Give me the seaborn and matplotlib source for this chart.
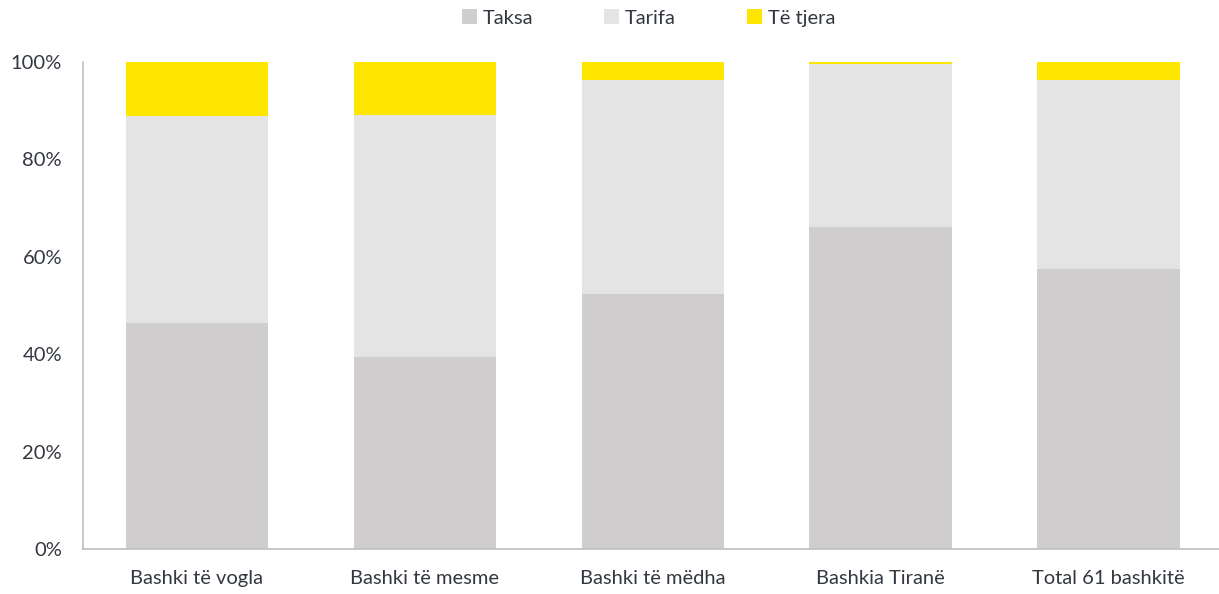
import matplotlib
matplotlib.use("Agg")
import matplotlib.pyplot as plt
import seaborn as sns
import pandas as pd
import numpy as np
from matplotlib.patches import Patch
from matplotlib.ticker import FuncFormatter

categories = ["Bashki të vogla", "Bashki të mesme", "Bashki të mëdha", "Bashkia Tiranë", "Total 61 bashkitë"]
taksa = [46.5, 39.4, 52.4, 66.1, 57.5]
tarifa = [42.4, 49.7, 43.9, 33.5, 38.8]
te_tjera = [11.1, 10.9, 3.7, 0.4, 3.7]
series_names = ["Taksa", "Tarifa", "Të tjera"]
colors = ["#CFCDCE", "#E4E4E4", "#FFE600"]
text_color = "#333840"

sns.set_theme(style="white")
plt.rcParams['font.family'] = ['Lato', 'DejaVu Sans']

df = pd.DataFrame({"cat": categories, "Taksa": taksa, "Tarifa": tarifa, "Të tjera": te_tjera})
df["c1"] = df["Taksa"]
df["c2"] = df["Taksa"] + df["Tarifa"]
df["c3"] = df["c2"] + df["Të tjera"]

fig = plt.figure(figsize=(12.19, 5.94), dpi=100)
ax = fig.add_axes([0.068, 0.0758, 0.935, 0.8198])

for col, color in zip(["c3", "c2", "c1"], colors[::-1]):
    sns.barplot(data=df, x="cat", y=col, color=color, width=0.625, ax=ax,
                saturation=1, edgecolor="none")

ax.set_ylim(0, 100)
ax.set_xlim(-0.5, 4.5)
ax.set_yticks([0, 20, 40, 60, 80, 100])
ax.yaxis.set_major_formatter(FuncFormatter(lambda v, p: f"{int(v)}%"))
ax.set_xlabel("")
ax.set_ylabel("")
for s in ["top", "right"]:
    ax.spines[s].set_visible(False)
for s in ["left", "bottom"]:
    ax.spines[s].set_color("#BFBFBF")
    ax.spines[s].set_linewidth(1.2)
ax.tick_params(axis="both", length=0, labelsize=14.5, colors=text_color)
ax.tick_params(axis="x", pad=15)
ax.tick_params(axis="y", pad=15)

handles = [Patch(facecolor=c, edgecolor="none") for c in colors]
fig.legend(handles, series_names, loc="center", bbox_to_anchor=(0.532, 0.97), ncol=3,
           frameon=False, fontsize=14.5, handlelength=0.75, handleheight=0.75,
           handletextpad=0.3, columnspacing=3.5, labelcolor=text_color)

fig.savefig("out.png", dpi=100)
